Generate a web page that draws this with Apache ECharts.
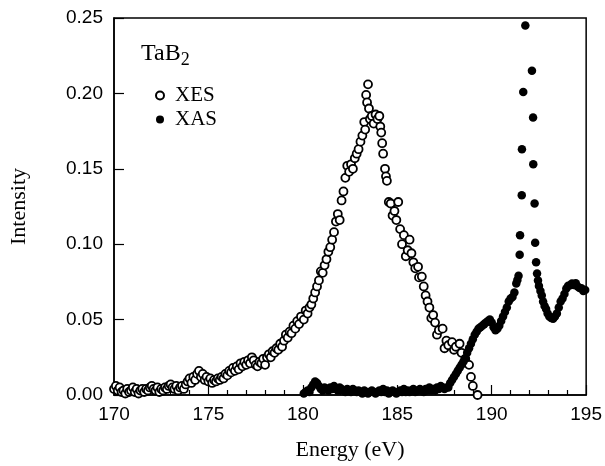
<!DOCTYPE html>
<html>
<head>
<meta charset="utf-8">
<script src="https://cdn.jsdelivr.net/npm/echarts@6/dist/echarts.min.js"></script>
<style>
html,body{margin:0;padding:0;background:#fff;}
#chart{width:605px;height:466px;}
</style>
</head>
<body>
<div id="chart"></div>
<script>
// ---- Data ----
var xesEnergy = [
170.0,170.1,170.2,170.3,170.4,170.5,170.6,170.7,170.8,170.9,
171.0,171.1,171.2,171.3,171.4,171.5,171.6,171.7,171.8,171.9,
172.0,172.1,172.2,172.3,172.4,172.5,172.6,172.7,172.8,172.9,
173.0,173.1,173.2,173.3,173.4,173.5,173.6,173.7,173.8,173.9,
174.0,174.1,174.2,174.3,174.4,174.5,174.6,174.7,174.8,174.9,
175.0,175.1,175.2,175.3,175.4,175.5,175.6,175.7,175.8,175.9,
176.0,176.1,176.2,176.3,176.4,176.5,176.6,176.7,176.8,176.9,
177.0,177.1,177.2,177.3,177.4,177.5,177.6,177.7,177.8,177.9,
178.0,178.1,178.2,178.3,178.4,178.5,178.6,178.7,178.8,178.9,
179.0,179.1,179.2,179.3,179.4,179.5,179.6,179.7,179.8,179.9,
180.05,180.15,180.25,180.35,180.45,180.55,180.65,180.75,180.85,180.95,
181.05,181.15,181.25,181.35,181.45,181.55,181.65,181.75,181.85,181.95,
182.05,182.15,182.25,182.35,182.45,182.55,182.65,182.75,182.85,182.95,
183.05,183.15,183.25,183.3,183.35,183.4,183.45,183.5,183.55,183.65,
183.75,183.85,183.95,184.05,184.1,184.15,184.2,184.25,184.35,184.4,
184.45,184.55,184.65,184.75,184.85,184.95,185.05,185.15,185.25,185.35,
185.45,185.55,185.65,185.75,185.85,185.95,186.1,186.15,186.3,186.4,
186.5,186.6,186.7,186.8,186.9,187.0,187.1,187.2,187.4,187.5,
187.6,187.7,187.9,188.0,188.1,188.3,188.4,188.6,188.8,188.9,
189.0,189.25
];
var xesIntensity = [
0.004,0.006,0.003,0.005,0.002,0.003,0.001,0.004,0.002,0.003,
0.005,0.002,0.004,0.001,0.003,0.004,0.002,0.004,0.003,0.005,
0.006,0.004,0.003,0.005,0.002,0.004,0.003,0.005,0.004,0.006,
0.007,0.005,0.004,0.006,0.003,0.005,0.006,0.004,0.007,0.009,
0.011,0.008,0.012,0.010,0.014,0.016,0.012,0.014,0.010,0.012,
0.009,0.011,0.008,0.010,0.009,0.011,0.010,0.012,0.011,0.014,
0.013,0.016,0.015,0.018,0.016,0.019,0.017,0.021,0.019,0.022,
0.020,0.023,0.021,0.025,0.023,0.020,0.019,0.022,0.021,0.024,
0.020,0.025,0.027,0.025,0.029,0.028,0.031,0.030,0.034,0.032,
0.036,0.040,0.038,0.042,0.041,0.046,0.044,0.049,0.047,0.052,
0.050,0.056,0.054,0.058,0.060,0.064,0.068,0.072,0.076,0.082,
0.081,0.086,0.090,0.095,0.098,0.103,0.108,0.115,0.120,0.116,
0.129,0.135,0.144,0.152,0.148,0.153,0.150,0.157,0.160,0.163,
0.168,0.172,0.181,0.176,0.199,0.194,0.206,0.190,0.183,0.185,
0.180,0.186,0.183,0.185,0.178,0.174,0.167,0.160,0.150,0.145,
0.142,0.128,0.127,0.119,0.122,0.116,0.128,0.110,0.100,0.106,
0.092,0.096,0.103,0.094,0.088,0.084,0.085,0.078,0.0785,0.072,
0.066,0.062,0.058,0.051,0.053,0.048,0.040,0.043,0.044,0.031,
0.036,0.033,0.035,0.030,0.032,0.034,0.028,0.024,0.020,0.012,
0.006,0.000
];
var xasEnergy = [
180.05,180.15,180.25,180.35,180.45,180.55,180.65,180.75,180.85,180.95,
181.05,181.15,181.25,181.35,181.45,181.55,181.65,181.75,181.85,181.95,
182.05,182.15,182.25,182.35,182.45,182.55,182.65,182.75,182.85,182.95,
183.05,183.15,183.25,183.35,183.45,183.55,183.65,183.75,183.85,183.95,
184.05,184.15,184.25,184.35,184.45,184.55,184.65,184.75,184.85,184.95,
185.05,185.15,185.25,185.35,185.45,185.55,185.65,185.75,185.85,185.95,
186.1,186.2,186.3,186.4,186.5,186.6,186.7,186.8,186.9,187.0,
187.1,187.2,187.3,187.4,187.5,187.6,187.7,187.8,187.9,188.0,
188.1,188.2,188.3,188.4,188.5,188.6,188.7,188.8,188.9,189.0,
189.1,189.2,189.3,189.4,189.5,189.6,189.7,189.8,189.9,190.0,
190.1,190.2,190.3,190.4,190.5,190.6,190.7,190.8,190.9,191.0,
191.1,191.2,191.3,191.36,191.42,191.48,191.5,191.59,191.6,191.67,
191.78,192.13,192.19,192.2,192.27,192.3,192.35,192.4,192.45,192.5,
192.58,192.65,192.72,192.8,192.88,192.96,193.05,193.15,193.25,193.35,
193.45,193.55,193.65,193.75,193.85,193.95,194.05,194.15,194.25,194.35,
194.45,194.55,194.65,194.75,194.85,194.95
];
var xasIntensity = [
0.001,0.002,0.003,0.002,0.005,0.007,0.009,0.008,0.006,0.004,
0.003,0.005,0.004,0.003,0.005,0.004,0.006,0.004,0.003,0.005,
0.004,0.003,0.002,0.004,0.003,0.002,0.004,0.003,0.002,0.003,
0.002,0.001,0.003,0.002,0.001,0.002,0.003,0.002,0.001,0.002,
0.003,0.002,0.004,0.002,0.003,0.001,0.002,0.003,0.002,0.001,
0.002,0.003,0.002,0.004,0.002,0.003,0.002,0.003,0.004,0.002,
0.003,0.004,0.003,0.002,0.004,0.003,0.005,0.003,0.004,0.003,
0.005,0.004,0.006,0.005,0.004,0.005,0.005,0.008,0.010,0.012,
0.014,0.016,0.018,0.020,0.022,0.024,0.028,0.031,0.034,0.037,
0.040,0.042,0.044,0.045,0.046,0.047,0.048,0.049,0.050,0.048,
0.045,0.043,0.044,0.046,0.049,0.052,0.055,0.058,0.062,0.064,
0.065,0.068,0.074,0.0763,0.079,0.093,0.106,0.1325,0.163,0.201,
0.245,0.215,0.184,0.153,0.127,0.101,0.088,0.0805,0.076,0.0723,
0.069,0.066,0.062,0.059,0.057,0.054,0.052,0.051,0.0505,0.052,
0.054,0.058,0.062,0.064,0.067,0.0706,0.0725,0.0728,0.074,0.073,
0.0741,0.072,0.071,0.0708,0.069,0.0697
];
var xTicks = { min: 170, max: 195, interval: 5 };
var yTicks = { min: 0, max: 0.25, interval: 0.05 };

function zip(a, b) { return a.map(function (v, i) { return [v, b[i]]; }); }

var chart = echarts.init(document.getElementById('chart'), null, { renderer: 'canvas' });
var serif = '"Liberation Serif", "Times New Roman", serif';
var sans = '"Liberation Sans", Arial, sans-serif';

chart.setOption({
  animation: false,
  backgroundColor: '#fff',
  grid: { left: 113, right: 17, top: 18, bottom: 69, show: true, borderColor: '#000', borderWidth: 1.5, backgroundColor: 'transparent' },
  legend: {
    orient: 'vertical', left: 150, top: 80,
    itemWidth: 8, itemHeight: 8, itemGap: 3,
    icon: 'circle',
    textStyle: { fontFamily: serif, fontSize: 21, color: '#000', padding: [0, 0, 0, 6] },
    data: ['XES', 'XAS']
  },
  graphic: [{
    type: 'text', left: 141, top: 42,
    style: {
      text: '{a|TaB}{b|2}',
      rich: {
        a: { fontFamily: serif, fontSize: 24, fill: '#000' },
        b: { fontFamily: serif, fontSize: 18, fill: '#000', padding: [13, 0, 0, 0] }
      }
    }
  }],
  xAxis: {
    type: 'value', min: xTicks.min, max: xTicks.max, interval: xTicks.interval,
    name: 'Energy (eV)', nameLocation: 'middle', nameGap: 44,
    nameTextStyle: { fontFamily: serif, fontSize: 22, color: '#000' },
    axisLine: { lineStyle: { color: '#000', width: 1.5 } },
    axisTick: { inside: true, length: 10, lineStyle: { color: '#000', width: 1.2 } },
    minorTick: { show: true, splitNumber: 5, length: 5, lineStyle: { color: '#000', width: 1.2 } },
    axisLabel: { fontFamily: sans, fontSize: 19, color: '#000', margin: 10 },
    splitLine: { show: false }
  },
  yAxis: {
    type: 'value', min: yTicks.min, max: yTicks.max, interval: yTicks.interval,
    name: 'Intensity', nameLocation: 'middle', nameGap: 84,
    nameTextStyle: { fontFamily: serif, fontSize: 22, color: '#000' },
    axisLine: { show: true, lineStyle: { color: '#000', width: 1.5 } },
    axisTick: { inside: true, length: 10, lineStyle: { color: '#000', width: 1.2 } },
    axisLabel: { fontFamily: sans, fontSize: 19, color: '#000', margin: 11, formatter: function (v) { return v.toFixed(2); } },
    splitLine: { show: false }
  },
  series: [
    {
      name: 'XES', type: 'scatter', symbol: 'circle', symbolSize: 8,
      itemStyle: { color: '#fff', borderColor: '#000', borderWidth: 1.8, opacity: 1 },
      data: zip(xesEnergy, xesIntensity)
    },
    {
      name: 'XAS', type: 'scatter', symbol: 'circle', symbolSize: 8.5,
      itemStyle: { color: '#000', opacity: 1 },
      data: zip(xasEnergy, xasIntensity)
    }
  ]
});
</script>
</body>
</html>
